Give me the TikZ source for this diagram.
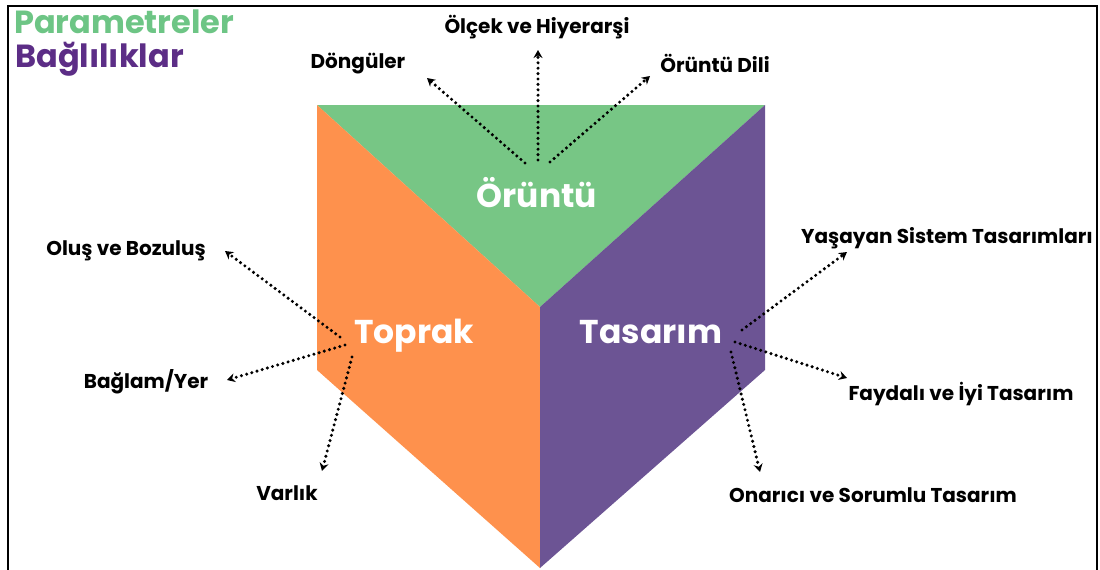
\documentclass[tikz,border=0pt]{standalone}
\usepackage{fontspec}
\setmainfont{Poppins}
\usepackage{tikz}
\usetikzlibrary{arrows.meta}
\definecolor{oruntu}{HTML}{77C685}
\definecolor{toprak}{HTML}{FE914D}
\definecolor{tasarim}{HTML}{6C5494}
\definecolor{paramgreen}{HTML}{6DC585}
\definecolor{bagpurple}{HTML}{5C2D86}

\begin{document}
\begin{tikzpicture}[x=1pt,y=-1pt]
	\tikzset{face label/.style={text=white,font=\fontsize{33}{40}\selectfont\bfseries,inner sep=0pt,anchor=base}}
	\tikzset{side label/.style={font=\fontsize{20}{24}\selectfont\bfseries,inner sep=0pt,anchor=base}}
	\tikzset{title label/.style={font=\fontsize{32}{36}\selectfont\bfseries,inner sep=0pt,anchor=base west}}
	\tikzset{link/.style={line width=3.4pt,line cap=round,dash pattern=on 0pt off 5.4pt,-{Stealth[length=8pt,width=9pt]}}}
	\useasboundingbox (0,0) rectangle (1100,570);
	\draw[line width=2pt] (8,575) -- (8,6) -- (1097,6) -- (1097,575);
	\fill[oruntu] (317,105) -- (765,105) -- (540,307) -- cycle;
	\fill[toprak] (317,105) -- (540,307) -- (540,568) -- (317,370) -- cycle;
	\fill[tasarim] (765,105) -- (540,307) -- (540,568) -- (765,370) -- cycle;
	\node[title label,text=paramgreen] (param) at (14,33) {Parametreler};
	\node[title label,text=bagpurple] (bag) at (15,67) {Bağlılıklar};
	\node[face label] (oruntu) at (537,207) {Örüntü};
	\node[face label] (toprak) at (414,343) {Toprak};
	\node[face label] (tasarim) at (651,343) {Tasarım};
	\node[side label] (dongu) at (358,68) {Döngüler};
	\node[side label] (olcek) at (537,33) {Ölçek ve Hiyerarşi};
	\node[side label] (dil) at (715,72) {Örüntü Dili};
	\node[side label] (olus) at (126,255) {Oluş ve Bozuluş};
	\node[side label] (baglam) at (146,388) {Bağlam/Yer};
	\node[side label] (varlik) at (287,500) {Varlık};
	\node[side label] (yasayan) at (947,243) {Yaşayan Sistem Tasarımları};
	\node[side label] (faydali) at (961,400) {Faydalı ve İyi Tasarım};
	\node[side label] (onarici) at (873,502) {Onarıcı ve Sorumlu Tasarım};
	\coordinate (o1) at (525,163);
	\coordinate (o2) at (538,160);
	\coordinate (o3) at (550,162);
	\coordinate (t1) at (340,337);
	\coordinate (t2) at (345,345);
	\coordinate (t3) at (352,357);
	\coordinate (s1) at (742,330);
	\coordinate (s2) at (735,342);
	\coordinate (s3) at (731,352);
	\coordinate (dongu-tip) at (427,78);
	\coordinate (olcek-tip) at (538,50);
	\coordinate (dil-tip) at (650,76);
	\coordinate (olus-tip) at (225,251);
	\coordinate (baglam-tip) at (227,380);
	\coordinate (varlik-tip) at (322,471);
	\coordinate (yasayan-tip) at (847,252);
	\coordinate (faydali-tip) at (847,378);
	\coordinate (onarici-tip) at (760,472);
	\draw[link] (o1) -- (dongu-tip);
	\draw[link] (o2) -- (olcek-tip);
	\draw[link] (o3) -- (dil-tip);
	\draw[link] (t1) -- (olus-tip);
	\draw[link] (t2) -- (baglam-tip);
	\draw[link] (t3) -- (varlik-tip);
	\draw[link] (s1) -- (yasayan-tip);
	\draw[link] (s2) -- (faydali-tip);
	\draw[link] (s3) -- (onarici-tip);
\end{tikzpicture}
\end{document}
